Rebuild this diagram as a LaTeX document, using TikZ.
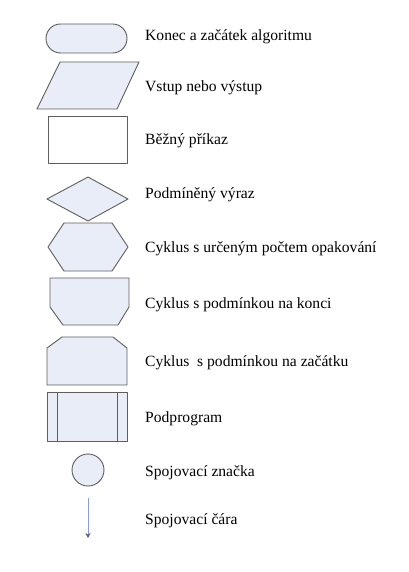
\documentclass[tikz,border=0pt]{standalone}
\usepackage{fontspec}
\setmainfont{Liberation Serif}
\definecolor{shapefill}{HTML}{E9EDF7}
\definecolor{shapeline}{HTML}{5E5E5E}
\definecolor{arrowline}{HTML}{8A9CCF}
\usetikzlibrary{arrows.meta}
\begin{document}
\begin{tikzpicture}[x=1pt,y=-1pt,
  symb/.style={draw=shapeline,fill=shapefill,line width=0.9pt,line join=round},
  lbl/.style={anchor=base west,inner sep=0pt,font=\fontsize{15.6}{18}\selectfont}]
\useasboundingbox[fill=white] (0,0) rectangle (408,572);
% terminal
\draw[symb,rounded corners=14.5pt] (46,24) rectangle (127,53);
% parallelogram
\draw[symb] (60,62)--(139,62)--(117,109)--(37,109)--cycle;
% rectangle
\draw[symb,fill=white] (48,116) rectangle (127,163);
% diamond
\draw[symb] (88,177)--(128,199)--(88,221)--(47,199)--cycle;
% hexagon
\draw[symb] (48,247)--(64,223)--(112,223)--(128,247)--(112,271)--(64,271)--cycle;
% loop end
\draw[symb] (50,278)--(129,278)--(129,307)--(118,325)--(63,325)--(50,307)--cycle;
% loop start
\draw[symb] (62,337)--(113,337)--(127,348)--(127,385)--(47,385)--(47,348)--cycle;
% subprogram
\draw[symb] (47,392) rectangle (127,441);
\draw[shapeline,line width=0.9pt] (57,392)--(57,441) (117,392)--(117,441);
% connector circle
\draw[symb] (88,470) circle[radius=16];
% arrow
\coordinate (a1) at (88,498);
\coordinate (a2) at (88,538);
\draw[arrowline,line width=1pt,-{Stealth[length=5pt,width=5pt,color=arrowline!60!black]}] (a1)--(a2);
% labels
\node[lbl] (t1) at (145,41) {Konec a začátek algoritmu};
\node[lbl] (t2) at (145,92) {Vstup nebo výstup};
\node[lbl] (t3) at (145,145) {Běžný příkaz};
\node[lbl] (t4) at (145,198) {Podmíněný výraz};
\node[lbl] (t5) at (145,252) {Cyklus s určeným počtem opakování};
\node[lbl] (t6) at (145,308) {Cyklus s podmínkou na konci};
\node[lbl] (t7) at (145,366) {Cyklus\ \ s podmínkou na začátku};
\node[lbl] (t8) at (145,422) {Podprogram};
\node[lbl] (t9) at (145,476) {Spojovací značka};
\node[lbl] (t10) at (145,524) {Spojovací čára};
\end{tikzpicture}
\end{document}
